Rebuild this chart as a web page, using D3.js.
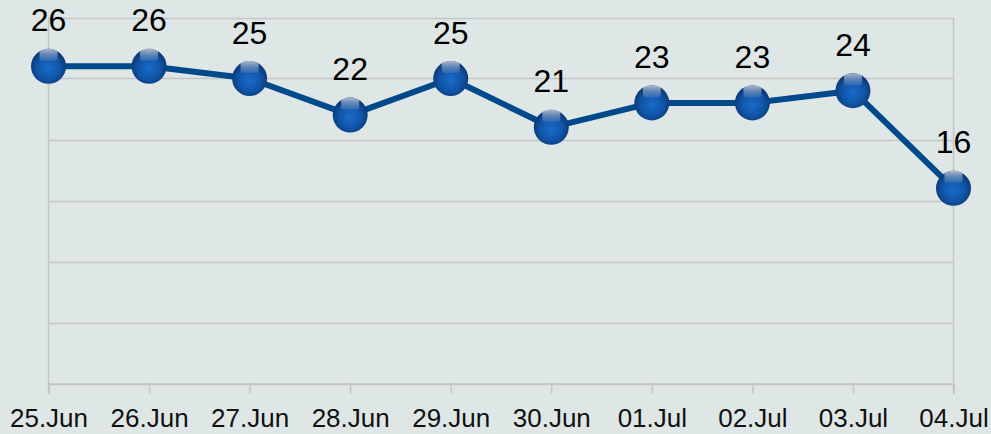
<!DOCTYPE html>
<html><head><meta charset="utf-8">
<script src="https://cdn.jsdelivr.net/npm/d3@7/dist/d3.min.js"></script>
<style>body{margin:0;background:#dfe7e6;}svg{display:block;}</style>
</head><body>
<svg id="c" width="991" height="434"></svg>
<script>
const categories = ["25.Jun","26.Jun","27.Jun","28.Jun","29.Jun","30.Jun","01.Jul","02.Jul","03.Jul","04.Jul"];
const values = [26,26,25,22,25,21,23,23,24,16];
const yTicks = [0,5,10,15,20,25,30];

const svg = d3.select("#c");
const W = 991, H = 434;
svg.append("rect").attr("width",W).attr("height",H).attr("fill","#dfe7e6");

const x = d3.scalePoint().domain(categories).range([48.5,953.5]);
const y = d3.scaleLinear().domain([0,30]).range([383.5,17.5]);

const defs = svg.append("defs");
const rg = defs.append("radialGradient").attr("id","ball").attr("cx","50%").attr("cy","55%").attr("r","55%");
rg.append("stop").attr("offset","0%").attr("stop-color","#1a6bc9");
rg.append("stop").attr("offset","60%").attr("stop-color","#1054a6");
rg.append("stop").attr("offset","100%").attr("stop-color","#0b3570");
const lg = defs.append("linearGradient").attr("id","hl").attr("x1","0").attr("y1","0").attr("x2","0").attr("y2","1");
lg.append("stop").attr("offset","0%").attr("stop-color","#c8d2e0").attr("stop-opacity",0.85);
lg.append("stop").attr("offset","100%").attr("stop-color","#7f9cc4").attr("stop-opacity",0.25);

// gridlines
svg.append("g").selectAll("line").data(yTicks).join("line")
  .attr("x1",48.5).attr("x2",953.5)
  .attr("y1",d=>Math.round(y(d))+0.5).attr("y2",d=>Math.round(y(d))+0.5)
  .attr("stroke","#c3c6c6").attr("stroke-width",1.5);
// vertical borders
svg.append("line").attr("x1",48.5).attr("x2",48.5).attr("y1",y(30)).attr("y2",394).attr("stroke","#c3c6c6").attr("stroke-width",1.5);
svg.append("line").attr("x1",953.5).attr("x2",953.5).attr("y1",y(30)).attr("y2",394).attr("stroke","#c3c6c6").attr("stroke-width",1.5);

// x axis
const xAxis = d3.axisBottom(x).tickSize(10).tickPadding(12);
const gx = svg.append("g").attr("transform",`translate(0,${y(0)})`).call(xAxis);
gx.select(".domain").attr("stroke","#c3c6c6").attr("stroke-width",1.5);
gx.selectAll(".tick line").attr("stroke","#c3c6c6").attr("stroke-width",1.5);
gx.selectAll(".tick text").attr("fill","#111").attr("font-family","'Liberation Sans', Arial, sans-serif")
  .attr("font-size",26).attr("y",43.5).attr("dy","0");

// line
const line = d3.line().x((d,i)=>x(categories[i])).y(d=>y(d));
svg.append("path").datum(values).attr("d",line).attr("fill","none")
  .attr("stroke","#004a8c").attr("stroke-width",6).attr("stroke-linejoin","round");

// points
const r = 17.5;
const pts = svg.append("g").selectAll("g").data(values).join("g")
  .attr("transform",(d,i)=>`translate(${x(categories[i])},${y(d)})`);
pts.append("circle").attr("r",r).attr("fill","url(#ball)");
values.forEach((d,i)=>{
  defs.append("clipPath").attr("id","cp"+i).append("circle").attr("r",r);
});
pts.append("rect").attr("x",-9).attr("y",-r).attr("width",18).attr("height",12).attr("rx",2)
  .attr("fill","url(#hl)").attr("clip-path",(d,i)=>`url(#cp${i})`);

// labels
svg.append("g").selectAll("text").data(values).join("text")
  .attr("x",(d,i)=>x(categories[i])).attr("y",d=>y(d)-35)
  .attr("text-anchor","middle").attr("font-family","'Liberation Sans', Arial, sans-serif")
  .attr("font-size",32).attr("fill","#000").text(d=>d);
</script>
</body></html>
